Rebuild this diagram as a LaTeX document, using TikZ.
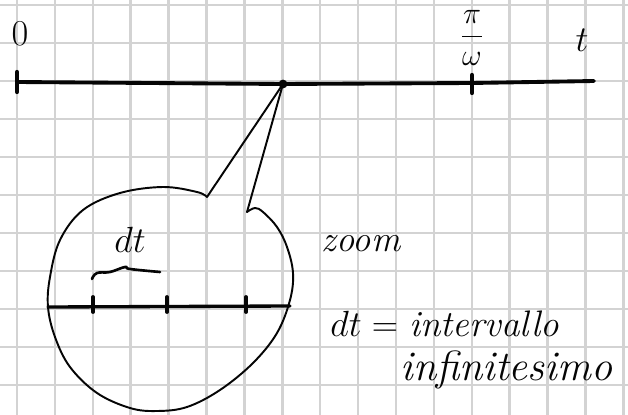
\documentclass[tikz,border=0pt]{standalone}
\usepackage{amsmath}
\usepackage{xcolor}
\usepackage{tikz}
\usetikzlibrary{positioning,calc}
\definecolor{gridgray}{HTML}{D3D3D3}
\definecolor{ink}{HTML}{050505}

\begin{document}
\begin{tikzpicture}[x=0.02cm,y=-0.02cm,
  gridline/.style={gridgray,line width=1.4pt},
  axisline/.style={ink,line width=2.2pt,line cap=round,line join=round},
  tickmark/.style={ink,line width=2.4pt,line cap=round},
  thinline/.style={ink,line width=1.1pt,line cap=round,line join=round},
  lbl/.style={inner sep=0pt,text=ink}]

\useasboundingbox[fill=white] (0,0) rectangle (628,415);

% squared paper
\foreach \k in {0,...,16}
  \draw[gridline] ({17+37.9*\k},0) -- ({17+37.9*\k},415);
\foreach \k in {0,...,10}
  \draw[gridline] (0,{5+38*\k}) -- (628,{5+38*\k});

% time axis
\coordinate (tzero) at (17,82);
\coordinate (tpiw) at (472,83);
\coordinate (tend) at (594,81);
\node[circle,fill=ink,inner sep=0pt,minimum size=5pt] (pt) at (283,84) {};
\draw[axisline] (tzero) -- (pt.center) -- (tpiw) -- (tend);
\draw[tickmark] ($(tzero)+(0,-10)$) -- ($(tzero)+(0,10)$);
\draw[tickmark] ($(tpiw)+(0,-8)$) -- ($(tpiw)+(0,10)$);

\node[lbl,font=\huge] (lzero) at (20,34) {$0$};
\node[lbl,font=\LARGE] (lpiw) at (472,38) {$\dfrac{\pi}{\omega}$};
\node[lbl,font=\huge] (lt) at (582,40) {$t$};

% zoom bubble
\coordinate (callL) at (207,197);
\coordinate (callR) at (247,212);
\draw[thinline] (pt.center) -- (callL);
\draw[thinline] (pt.center) -- (callR);
\draw[thinline] plot[smooth,tension=0.6] coordinates {
  (callL) (197,192) (163,187) (120,193) (83,210) (60,240) (50,277)
  (48,307) (55,337) (70,367) (97,393) (130,408) (157,411) (187,407)
  (220,390) (253,363) (277,333) (290,300) (293,273) (287,247)
  (277,227) (263,212) (255,208) (callR)};

% zoomed axis
\coordinate (zleft) at (48,307);
\coordinate (zright) at (290,306);
\draw[axisline,line width=1.9pt] (zleft) -- (zright);
\foreach \x in {93,167,246}
  \draw[tickmark,line width=2.2pt] (\x,297) -- (\x,312);
\draw[thinline,line width=1.5pt] plot[smooth,tension=0.7] coordinates {
  (92,279) (97,273) (110,272) (125,267) (130,269) (160,272)};
\node[lbl,font=\huge] (ldt) at (130,240) {$dt$};

% notes
\node[lbl,font=\huge\itshape] (lzoom) at (361,244) {zoom};
\node[lbl,font=\fontsize{21}{25}\selectfont,anchor=base west] (def1) at (330,336)
  {$dt=$ \textit{intervallo}};
\node[lbl,font=\fontsize{24}{28}\selectfont\itshape,anchor=base west] (def2) at (400,380)
  {infinitesimo};

\end{tikzpicture}
\end{document}
